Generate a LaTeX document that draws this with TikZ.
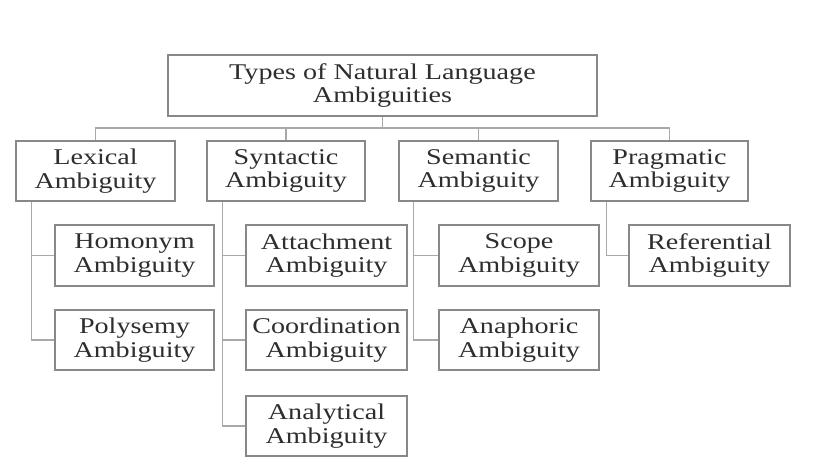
\documentclass[tikz,border=0pt]{standalone}
\usepackage{fontspec}
\setmainfont[FakeStretch=1.25]{Liberation Serif}
\definecolor{boxline}{HTML}{888888}
\definecolor{conn}{HTML}{A8A8A8}
\definecolor{txt}{HTML}{2E2E2E}
\begin{document}
\begin{tikzpicture}[x=1pt,y=-1pt,
  box/.style={draw=boxline,line width=1.3pt,rectangle,inner sep=0pt,align=center,
    text=txt,font=\fontsize{22.5}{23.5}\selectfont,minimum height=60pt},
  link/.style={draw=conn,line width=1.1pt}]
\useasboundingbox (0,0) rectangle (817,463);
\fill[white] (0,0) rectangle (817,463);
\node[box,minimum width=429pt,minimum height=61pt] (top) at (382.5,85.5) {Types of Natural Language\\Ambiguities};
\node[box,minimum width=159pt] (lex) at (95.5,171) {Lexical\\Ambiguity};
\node[box,minimum width=158pt] (syn) at (286,171) {Syntactic\\Ambiguity};
\node[box,minimum width=159pt] (sem) at (478.5,171) {Semantic\\Ambiguity};
\node[box,minimum width=157pt] (prag) at (669.5,171) {Pragmatic\\Ambiguity};
\node[box,minimum width=159pt,minimum height=61pt] (hom) at (134.5,255.5) {Homonym\\Ambiguity};
\node[box,minimum width=159pt] (poly) at (134.5,340) {Polysemy\\Ambiguity};
\node[box,minimum width=161pt,minimum height=61pt] (att) at (326.5,255.5) {Attachment\\Ambiguity};
\node[box,minimum width=161pt] (coord) at (326.5,340) {Coordination\\Ambiguity};
\node[box,minimum width=161pt] (ana) at (326.5,426) {Analytical\\Ambiguity};
\node[box,minimum width=160pt,minimum height=61pt] (scope) at (519,255.5) {Scope\\Ambiguity};
\node[box,minimum width=160pt] (anaph) at (519,340) {Anaphoric\\Ambiguity};
\node[box,minimum width=161pt,minimum height=61pt] (ref) at (709.5,255.5) {Referential\\Ambiguity};
\coordinate (bus) at (0,128);
\draw[link] (top.south) -- (top.south |- bus);
\draw[link] (lex.north) |- (top.south |- bus);
\draw[link] (prag.north) |- (top.south |- bus);
\draw[link] (syn.north) -- (syn.north |- bus);
\draw[link] (sem.north) -- (sem.north |- bus);
\draw[link] ([xshift=16pt]lex.south west) |- (hom.west);
\draw[link] ([xshift=16pt]lex.south west) |- (poly.west);
\draw[link] ([xshift=16pt]syn.south west) |- (att.west);
\draw[link] ([xshift=16pt]syn.south west) |- (coord.west);
\draw[link] ([xshift=16pt]syn.south west) |- (ana.west);
\draw[link] ([xshift=15pt]sem.south west) |- (scope.west);
\draw[link] ([xshift=15pt]sem.south west) |- (anaph.west);
\draw[link] ([xshift=16pt]prag.south west) |- (ref.west);
\end{tikzpicture}
\end{document}
